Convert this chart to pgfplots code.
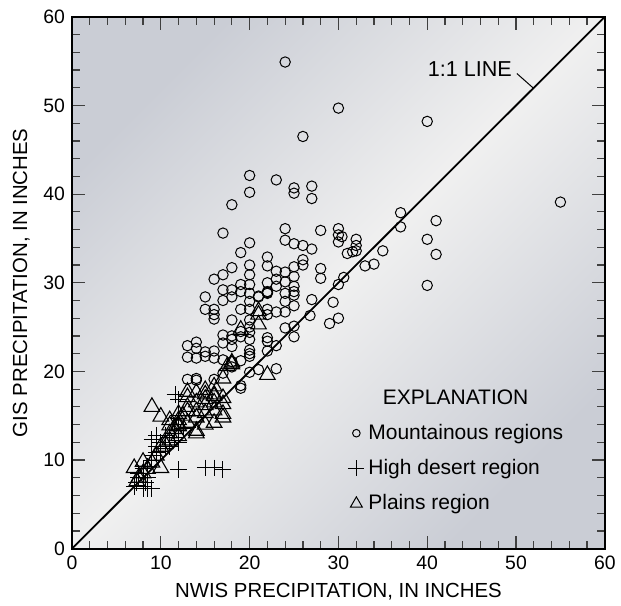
\documentclass[border=0pt]{standalone}
\usepackage{pgfplots}
\pgfplotsset{compat=1.18}
\usepackage{fontspec}
\setmainfont{Liberation Sans}
\definecolor{bgedge}{RGB}{202,205,213}
\definecolor{bgmid}{RGB}{240,240,240}

% mountainous regions
\pgfplotstableread{
x y
24 54.9
30 49.7
40 48.2
26 46.5
20 42.1
20 40.2
23 41.6
25 40.7
25 40.1
27 40.9
27 39.5
18 38.8
55 39.1
17 35.6
20 34.5
19 33.4
24 36.1
24 34.8
25 34.4
26 34.2
27 33.8
28 35.9
30 36.1
30 35.4
30.4 35.2
30 34.6
32 34.9
32 34.2
32 33.6
31 33.3
31.6 33.5
35 33.6
34 32.1
33 31.9
30.6 30.6
30 29.8
28 31.6
28 30.5
26 32.6
26 32.0
25 31.8
37 37.9
37 36.3
41 37.0
40 34.9
41 33.2
40 29.7
22 32.9
22 31.9
23 31.3
23 30.4
23 29.6
24 31.2
24 30.1
24 28.8
24 27.9
25 30.7
25 29.6
25 29.0
25 28.6
25 27.4
22 30.0
22 29.0
22 28.8
22 27.0
22 26.4
23 26.7
24 26.7
27 28.1
29.4 27.8
26.8 26.3
30 26.0
29 25.4
24 24.9
25 25.1
25 23.9
20 32.0
18 31.7
17 30.9
16 30.4
20 30.9
20 29.8
19 29.8
19 29.0
18 29.2
18 28.4
17 29.2
17 28.0
15 28.4
20 28.8
20 27.9
21 28.4
15 27.0
16 27.0
16 26.4
16 25.9
18 25.8
19 27.0
20 27.0
17 24.1
18 24.0
18 23.6
18 22.8
19 24.5
19 23.9
20 25.8
20 25.0
20 24.4
20 23.6
22 23.8
22 23.4
23 22.9
20 22.4
20 22.0
20 21.7
19 21.2
17 21.3
16 21.5
15 22.2
14 22.6
14 21.5
13 22.9
13 21.6
14 23.3
15 21.7
13 19.1
14 19.2
14 19.0
16 19.1
17 19.8
18 20.5
19 18.4
19 18.1
20 19.9
21 20.2
23 20.3
21 28.5
22 28.9
16 22.3
17 23.2
22 22.3
18 21.1
}\mountain

% high desert region
\pgfplotstableread{
x y
7 7.0
7.3 7.5
7.5 8.0
7.5 8.5
8 7.0
8 6.8
8.3 7.5
8.5 8.0
8.5 6.8
9 6.8
8 9.0
8.5 9.3
9 10.0
9 10.5
9.5 10.8
9.5 11.5
9 12.3
9.5 12.8
10 11.0
10 12.0
10.5 11.5
11 12.0
11 12.5
11.5 12.5
11.5 13.0
12 12.0
12 13.3
12.5 13.6
12 15.0
12 16.8
11.6 17.4
12 8.9
15 9.1
16 9.1
17 8.9
10.5 12.8
11 11.5
}\desert

% plains region
\pgfplotstableread{
x y
7 9.1
7.5 8.0
7.3 7.6
8 9.8
8 8.5
8.5 9.0
9 9.7
10 9.1
9 16.0
10 14.9
9.5 10.5
10 11.5
10.5 11.8
11 12.2
11 13.0
11.5 13.5
12 12.7
12 13.8
12 14.5
12 15.2
12.5 15.0
13 15.5
13 16.0
13 17.1
13 17.7
14 17.6
14 16.5
14 15.5
14 14.8
14 13.3
14 13.0
15 17.9
15 16.9
15 16.2
15 15.3
15 14.0
16 18.3
16 17.2
16 16.5
16 15.6
17 17.0
17 16.3
17 15.2
17 14.8
17 19.2
17.5 20.6
18 21.0
18 20.8
19 24.7
21 26.4
21 25.3
21 26.8
22 19.6
13 14.2
12 14.0
11 14.5
11 13.9
16 14.2
16 17.4
15 17.4
}\plains

\begin{document}
\begin{tikzpicture}
\begin{axis}[
  scale only axis,
  width=266.5pt, height=266pt,
  xmin=0, xmax=60, ymin=0, ymax=60,
  xtick={0,10,...,60}, ytick={0,10,...,60},
  minor tick num=4,
  tick align=inside,
  major tick length=6.5pt,
  minor tick length=4pt,
  tick style={black!75, line width=0.6pt},
  axis line style={black, line width=0.9pt},
  ticklabel style={font=\fontsize{9.7}{11}\selectfont},
  /pgf/number format/assume math mode=true,
  xlabel={NWIS PRECIPITATION, IN INCHES},
  ylabel={GIS PRECIPITATION, IN INCHES},
  label style={font=\fontsize{10.2}{12}\selectfont},
  axis background/.style={top color=bgedge, bottom color=bgedge, middle color=bgmid, shading angle=45},
  clip=false,
  legend style={at={(axis cs:30.4,15.0)}, anchor=north west, draw=none, fill=none,
    font=\fontsize{10.5}{12}\selectfont, row sep=4.5pt,
    /tikz/every even column/.append style={column sep=2pt}},
  legend cell align=left,
]
\addplot[only marks, mark=o, mark size=2.6pt, mark options={line width=0.5pt}, forget plot] table {\mountain};
\addplot[only marks, mark=+, mark size=4.2pt, mark options={line width=0.5pt}, forget plot] table {\desert};
\addplot[only marks, mark=triangle, mark size=4.5pt, mark options={line width=0.55pt}, forget plot] table {\plains};
\addlegendimage{only marks, mark=o, mark size=1.9pt, mark options={line width=0.5pt}}
\addlegendentry{Mountainous regions}
\addlegendimage{only marks, mark=+, mark size=4pt, mark options={line width=0.5pt}}
\addlegendentry{High desert region}
\addlegendimage{only marks, mark=triangle, mark size=3.4pt, mark options={line width=0.5pt}}
\addlegendentry{Plains region}
\addplot[black, line width=0.9pt, forget plot] coordinates {(0,0) (60,60)};
\draw[black, line width=0.5pt] (axis cs:50.1,53.6) -- (axis cs:51.9,52.0);
\node[anchor=base, font=\fontsize{10.8}{12}\selectfont] at (axis cs:44.8,53.3) {1:1 LINE};
\node[font=\fontsize{10.5}{12}\selectfont] at (axis cs:43.2,17.1) {EXPLANATION};
\coordinate (ll) at (axis cs:-8.11,-6.43);
\coordinate (ur) at (axis cs:61.82,61.9);
\end{axis}
\pgfresetboundingbox
\path (ll) rectangle (ur);
\end{tikzpicture}
\end{document}
